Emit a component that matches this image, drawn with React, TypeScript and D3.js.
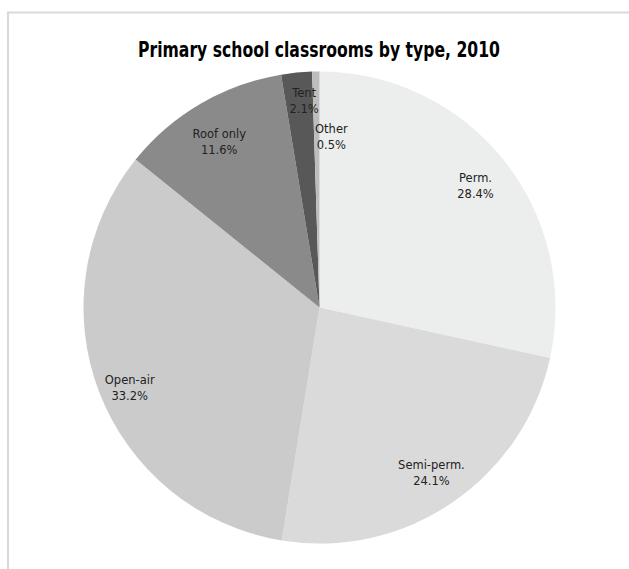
import React from "react";
import * as d3 from "d3";

const categories = ["Perm.", "Semi-perm.", "Open-air", "Roof only", "Tent", "Other"];
const values = [28.4, 24.1, 33.2, 11.6, 2.1, 0.5];
const percentLabels = ["28.4%", "24.1%", "33.2%", "11.6%", "2.1%", "0.5%"];
const title = "Primary school classrooms by type, 2010";

const colors = ["#eceeed", "#dadada", "#cbcbcb", "#8a8a8a", "#585858", "#bdbdbd"];
// label nudges (px) relative to the arc centroid, mimicking Excel's placement
const labelNudge: [number, number][] = [
  [1, 2],
  [0, 0],
  [-4, 8],
  [0, 5],
  [4, -9],
  [15, 27],
];

export default function App() {
  const W = 629;
  const H = 569;
  const cx = 319.5;
  const cy = 307.5;
  const R = 236;

  const data = categories.map((c, i) => ({ c, v: values[i], i }));
  const pie = d3.pie<any>().sort(null).value((d) => d.v);
  const arcs = pie(data);
  const arc = d3.arc<any>().innerRadius(0).outerRadius(R);
  const labelArc = d3.arc<any>().innerRadius(199).outerRadius(199);

  return (
    <svg
      width={W}
      height={H}
      style={{ position: "absolute", left: 0, top: 0, background: "#fff" }}
    >
      <rect x={8} y={12.5} width={700} height={700} fill="#fff" stroke="#d9d9d9" strokeWidth={2} />
      <text
        x={319}
        y={57}
        textAnchor="middle"
        fontFamily="DejaVu Sans, Verdana, sans-serif"
        fontWeight="bold"
        fontSize={22}
        textLength={362}
        lengthAdjust="spacingAndGlyphs"
        fill="#000"
      >
        {title}
      </text>
      <g transform={`translate(${cx},${cy})`}>
        {arcs.map((a, i) => (
          <path key={i} d={arc(a) as string} fill={colors[i]} />
        ))}
        {arcs.map((a, i) => {
          const [x, y] = labelArc.centroid(a);
          const lx = x + labelNudge[i][0];
          const ly = y + labelNudge[i][1];
          return (
            <text
              key={"l" + i}
              x={lx}
              y={ly}
              textAnchor="middle"
              fontFamily="DejaVu Sans, Verdana, sans-serif"
              fontSize={11.5}
              fill="#222"
            >
              <tspan x={lx} dy={-3}>{categories[i]}</tspan>
              <tspan x={lx} dy={16}>{percentLabels[i]}</tspan>
            </text>
          );
        })}
      </g>
    </svg>
  );
}
